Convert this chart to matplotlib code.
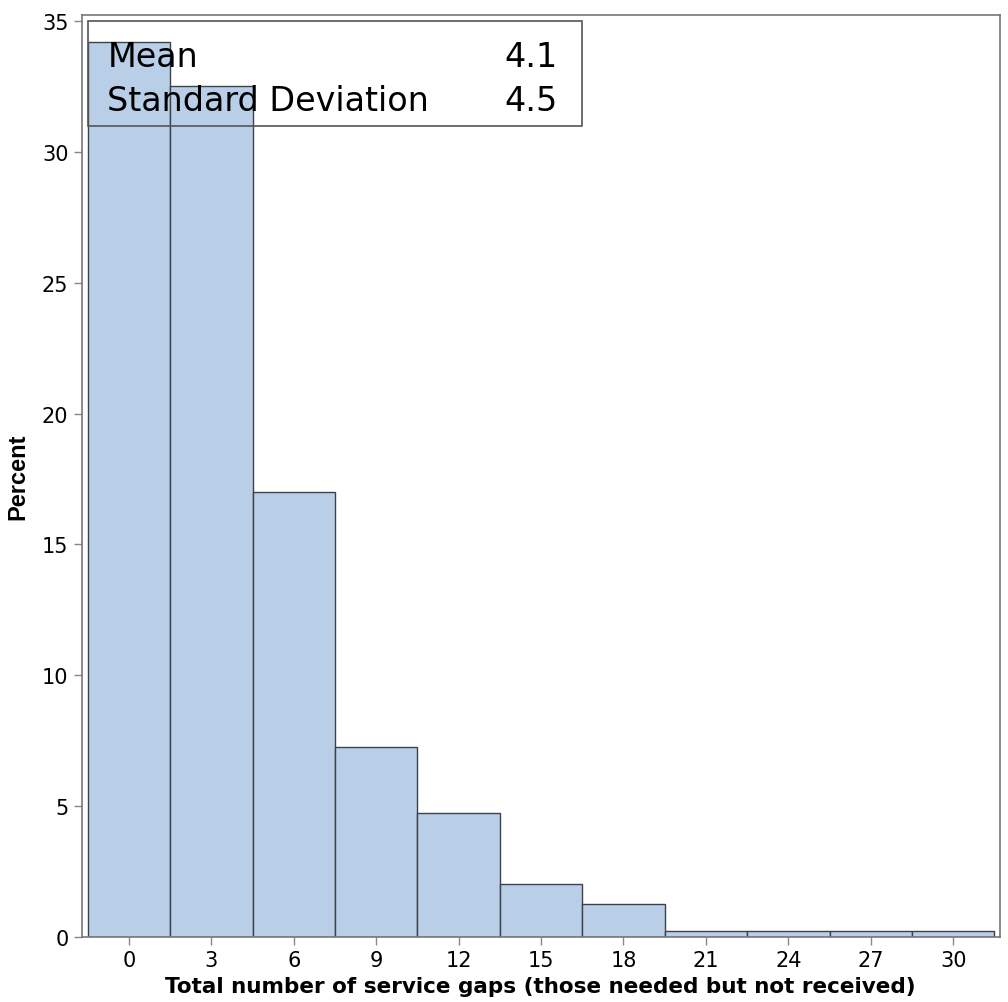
import matplotlib
matplotlib.use("Agg")
import matplotlib.pyplot as plt
from matplotlib.patches import Rectangle

# histogram data (percent per bin, bins of width 3 centred on the tick values)
bin_centers = [0, 3, 6, 9, 12, 15, 18, 21, 24, 27, 30]
percents = [34.2, 32.5, 17.0, 7.25, 4.75, 2.0, 1.25, 0.22, 0.22, 0.22, 0.22]
stat_names = ["Mean", "Standard Deviation"]
stat_values = ["4.1", "4.5"]
y_ticks = [0, 5, 10, 15, 20, 25, 30, 35]

plt.rcParams['font.family'] = ['DejaVu Sans']

fig = plt.figure(figsize=(10.08, 10.03), dpi=100)
ax = fig.add_axes([0.081, 0.065, 0.911, 0.919])

ax.bar(bin_centers, percents, width=3, color="#b9cfe7", edgecolor="#3b424b", linewidth=1.0)

ax.set_xlim(-1.72, 31.7)
ax.set_ylim(0, 35.23)
ax.set_xticks(bin_centers)
ax.set_yticks(y_ticks)
ax.tick_params(axis="both", direction="out", length=6, width=1, color="#888888",
               labelsize=15, labelcolor="black")

for s in ax.spines.values():
    s.set_color("#777777")
    s.set_linewidth(1.2)

ax.set_xlabel("Total number of service gaps (those needed but not received)",
              fontsize=15.5, fontweight="bold", labelpad=4)
ax.set_ylabel("Percent", fontsize=17, fontweight="bold",
              family=["Liberation Sans Narrow", "Liberation Sans"], labelpad=9)

# stats inset box
ax.add_patch(Rectangle((0.0065, 0.8796), 0.5385, 0.114, transform=ax.transAxes,
                       fill=False, edgecolor="#555555", linewidth=1.2, zorder=5))
for i, (name, val) in enumerate(zip(stat_names, stat_values)):
    y = 0.9555 - i * 0.0477
    ax.text(0.028, y, name, transform=ax.transAxes, fontsize=24, va="center", ha="left", zorder=6)
    ax.text(0.518, y, val, transform=ax.transAxes, fontsize=24, va="center", ha="right", zorder=6)

fig.savefig("out.png", dpi=100)
